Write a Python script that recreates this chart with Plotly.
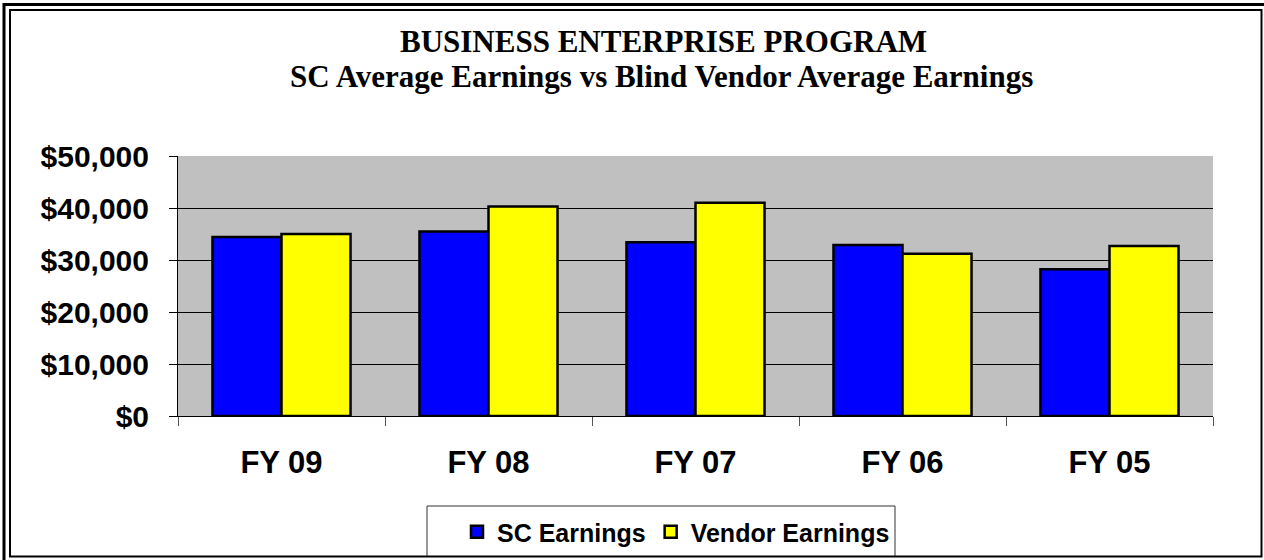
import plotly.graph_objects as go

categories = ["FY 09", "FY 08", "FY 07", "FY 06", "FY 05"]
sc_earnings = [34400, 35500, 33400, 32900, 28200]
vendor_earnings = [35000, 40300, 41000, 31200, 32700]
y_ticks = [0, 10000, 20000, 30000, 40000, 50000]
y_tick_text = ["$0", "$10,000", "$20,000", "$30,000", "$40,000", "$50,000"]
title_lines = ["BUSINESS ENTERPRISE PROGRAM",
               "SC Average Earnings vs Blind Vendor Average Earnings"]

W, H = 1264, 560
L, R, T, B = 178, 1213, 156, 416
PW, PH = R - L, B - T


def px(x):
    return (x - L) / PW


def py(y):
    return (B - y) / PH


fig = go.Figure()
fig.add_trace(go.Bar(x=categories, y=sc_earnings, name="SC Earnings",
                     marker=dict(color="#0000FF", line=dict(color="black", width=2.5))))
fig.add_trace(go.Bar(x=categories, y=vendor_earnings, name="Vendor Earnings",
                     marker=dict(color="#FFFF00", line=dict(color="black", width=2.5))))

shapes = [
    # legend box
    dict(type="rect", xref="paper", yref="paper", x0=px(427), x1=px(895), y0=py(506), y1=py(556.5),
         line=dict(color="#333333", width=1), fillcolor="white", layer="above"),
    # outer frame
    dict(type="rect", xref="paper", yref="paper", x0=px(4), x1=px(1268), y0=py(4.5), y1=py(566),
         line=dict(color="black", width=3), fillcolor="rgba(0,0,0,0)", layer="above"),
    # inner frame
    dict(type="rect", xref="paper", yref="paper", x0=px(10), x1=px(1261.5), y0=py(10), y1=py(556.5),
         line=dict(color="black", width=2), fillcolor="rgba(0,0,0,0)", layer="above"),
]

title_font = dict(family="Liberation Serif, Times New Roman", size=31, color="black", weight="bold")
annotations = [
    dict(text=title_lines[0], xref="paper", yref="paper", x=px(663), y=py(41),
         xanchor="center", yanchor="middle", showarrow=False, font=title_font),
    dict(text=title_lines[1], xref="paper", yref="paper", x=px(661), y=py(76),
         xanchor="center", yanchor="middle", showarrow=False, font=title_font),
]

fig.update_layout(
    width=W, height=H,
    margin=dict(l=L, r=W - R, t=T, b=H - B, autoexpand=False),
    paper_bgcolor="white",
    plot_bgcolor="#C0C0C0",
    barmode="group",
    bargap=0.333,
    bargroupgap=0,
    showlegend=True,
    legend=dict(orientation="h", x=px(676), xanchor="center", y=py(532), yanchor="middle",
                bgcolor="rgba(0,0,0,0)",
                font=dict(family="Liberation Sans, Arial", size=25, color="black", weight="bold")),
    shapes=shapes,
    annotations=annotations,
)

fig.update_yaxes(
    range=[0, 50000], tickvals=y_ticks, ticktext=y_tick_text,
    showgrid=True, gridcolor="black", gridwidth=1,
    showline=True, linecolor="black", linewidth=1,
    ticks="outside", ticklen=8, tickcolor="black",
    ticklabelstandoff=14, automargin=False,
    tickfont=dict(family="Liberation Sans, Arial", size=30, color="black", weight="bold"),
    zeroline=False, fixedrange=True,
)
fig.update_xaxes(
    showline=True, linecolor="black", linewidth=1,
    ticks="outside", ticklen=9, tickcolor="#555555", tickson="boundaries",
    ticklabelstandoff=19, automargin=False,
    tickfont=dict(family="Liberation Sans, Arial", size=31, color="black", weight="bold"),
    fixedrange=True,
)

fig.write_html("out.html", config={"displayModeBar": False},
               post_script="document.body.style.margin='0';document.body.style.padding='0';")
